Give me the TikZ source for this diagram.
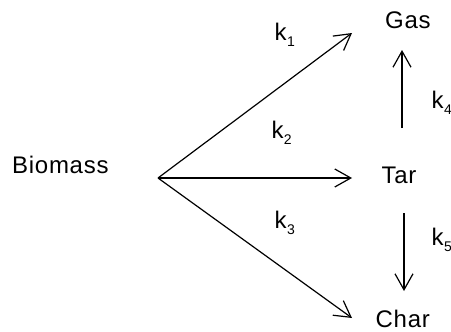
\documentclass[tikz,border=0pt]{standalone}
\usepackage{fontspec}
\setmainfont[LetterSpace=3]{Liberation Sans}
\usetikzlibrary{arrows.meta}
\newcommand{\kk}[1]{k\kern0.3pt\raisebox{-0.25em}{\fontsize{14}{14}\selectfont #1}}
\begin{document}
\begin{tikzpicture}[x=1pt,y=-1pt,
  lbl/.style={inner sep=0pt,anchor=base west,font=\fontsize{24}{24}\selectfont},
  arr/.style={line width=1.2pt,-{Straight Barb[length=16pt,width=18pt,line width=1.2pt]}}]
\useasboundingbox (0,0) rectangle (451,332);
\node[lbl] (bio) at (12,173) {Biomass};
\node[lbl] (gas) at (385,28) {Gas};
\node[lbl] (tar) at (381.5,183) {Tar};
\node[lbl] (char) at (375.5,327) {Char};
\node[lbl] (k1) at (274.5,40) {\kk{1}};
\node[lbl] (k2) at (271.5,138) {\kk{2}};
\node[lbl] (k3) at (274.5,228) {\kk{3}};
\node[lbl] (k4) at (431.5,108) {\kk{4}};
\node[lbl] (k5) at (431.5,245) {\kk{5}};
\coordinate (o) at (158,178);
\coordinate (tg) at (352,33);
\coordinate (tt) at (352,178);
\coordinate (tc) at (352,318);
\coordinate (u0) at (402,128);
\coordinate (u1) at (402,50);
\coordinate (d0) at (404,213);
\coordinate (d1) at (404,291);
\draw[arr] (o) -- (tg);
\draw[arr] (o) -- (tt);
\draw[arr] (o) -- (tc);
\draw[arr] (u0) -- (u1);
\draw[arr] (d0) -- (d1);
\end{tikzpicture}
\end{document}
